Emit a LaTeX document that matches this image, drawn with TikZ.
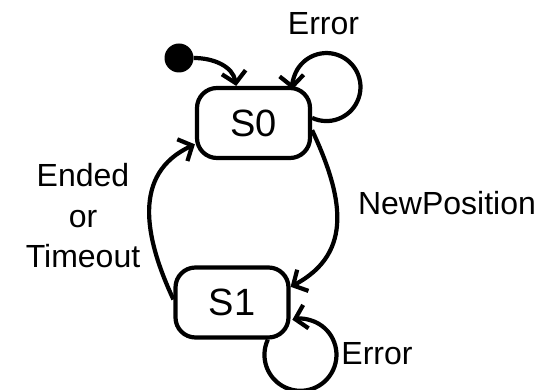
\documentclass[tikz,border=0pt]{standalone}
\usepackage{fontspec}
\setmainfont{Liberation Sans}
\usetikzlibrary{arrows.meta}

\tikzset{
  state/.style={shape=rectangle,draw=black,line width=4.2pt,rounded corners=20pt,
    minimum width=113pt,minimum height=70pt,inner sep=0pt,font=\fontsize{38}{44}\selectfont},
  trans/.style={-{Straight Barb[length=11pt,width=24pt]},line width=4.2pt},
  lbl/.style={font=\fontsize{32}{40.5}\selectfont,align=center}
}

\begin{document}
\begin{tikzpicture}[x=1pt,y=1pt]
            \useasboundingbox (0,0) rectangle (546,390);
            \node[shape=circle,fill=black,minimum size=29pt,inner sep=0pt] (init) at (179,332) {};
            \node[state] (S0) at (253.5,267) {S0};
            \node[state] (S1) at (232,87.5) {S1};
            \node[lbl,anchor=base] (err0) at (323.5,355) {Error};
            \node[lbl,anchor=base] (newpos) at (447,175) {NewPosition};
            \node[lbl] (ended) at (83,174) {Ended\\or\\Timeout};
            \node[lbl,anchor=base] (err1) at (377,25) {Error};
            \path [trans] (init) edge[out=0,in=100] (S0.115);
            \path [trans] (S0.-7) edge[out=-65,in=28,looseness=1.17] (S1.15);
            \path [trans] (S1.177) edge[out=115,in=205,looseness=1.13] (S0.200);
            \draw [trans] (S0.5) arc[start angle=245,end angle=544,radius=34];
            \draw [trans] (S1.-46) arc[start angle=155,end angle=463,radius=36];
        \end{tikzpicture}
\end{document}
